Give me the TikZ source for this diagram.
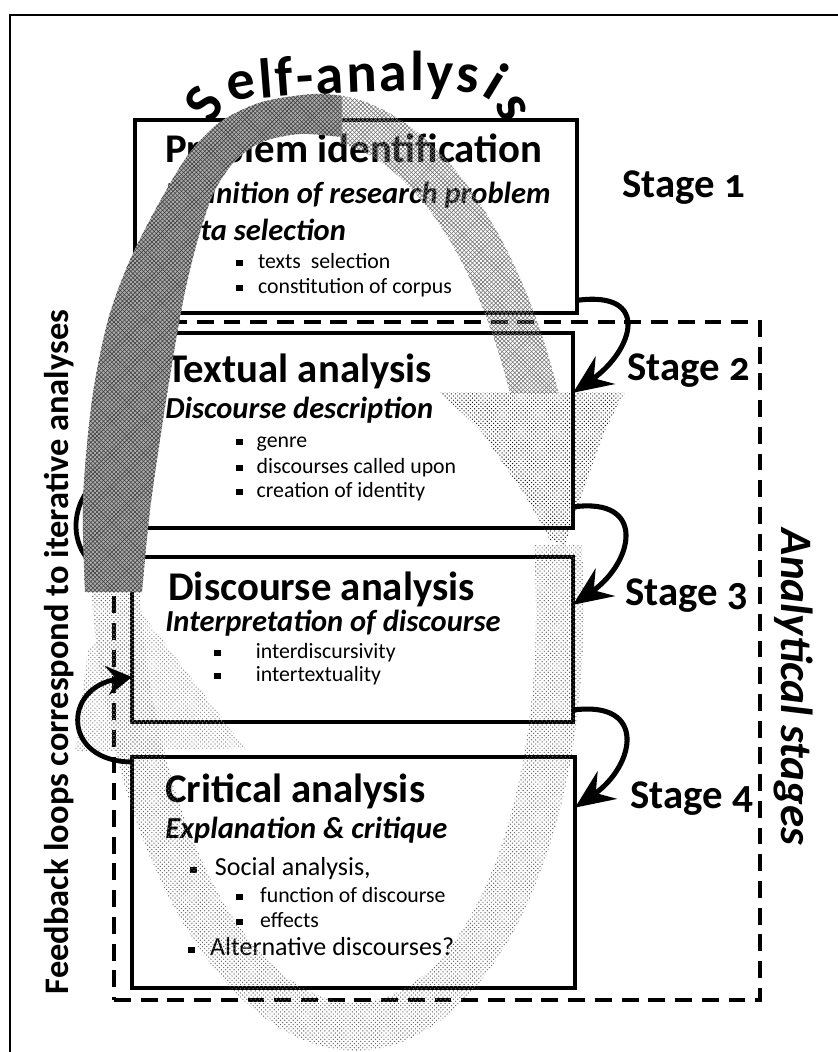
\documentclass[tikz,border=0pt]{standalone}
\usepackage{fontspec}
\setmainfont{Carlito}
\newfontfamily\stagefont[Numbers=OldStyle]{Carlito}
\usetikzlibrary{positioning,fit,arrows.meta,patterns,decorations.text}
\newcommand{\sq}{\rule[1.5pt]{4.5pt}{4.5pt}}

\begin{document}
\begin{tikzpicture}[x=0.025cm, y=-0.025cm,
		box/.style={draw, line width=2.8pt, fill=white, inner sep=0pt, outer sep=0pt},
		dashbox/.style={draw, line width=2.3pt, dash pattern=on 12pt off 7pt, inner sep=0pt},
		title/.style={anchor=base west, inner sep=0pt, font=\fontsize{29}{32}\selectfont\bfseries},
		sub/.style={anchor=base west, inner sep=0pt, font=\fontsize{21.7}{25}\selectfont\bfseries\itshape},
		item/.style={anchor=base west, inner sep=0pt, font=\fontsize{15.5}{18}\selectfont},
		bigitem/.style={anchor=base west, inner sep=0pt, font=\fontsize{18.5}{22}\selectfont},
		stage/.style={anchor=base west, inner sep=0pt, font=\fontsize{29}{32}\selectfont\stagefont\bfseries},
		stagearr/.style={line width=3.6pt, -{Stealth[length=28pt,width=24pt,inset=10pt]}},
		backarr/.style={line width=3.4pt, -{Stealth[length=18pt,width=21pt,inset=7pt]}},
		band/.style={even odd rule, shift={(337,572)}, rotate=3}]
	\useasboundingbox (0,0) rectangle (837,1052);
	% frame
	\draw[line width=2pt] (10,1070) -- (10,15) -- (850,15);
	\node[dashbox, fit={(114,322) (760,1000)}] (stages) {};
	% the four boxes
	\node[box, fit={(135,120) (577,313)}] (b1) {};
	\node[box, fit={(133,333) (573,528)}] (b2) {};
	\node[box, fit={(132,557) (573,722)}] (b3) {};
	\node[box, fit={(132,757) (575,988)}] (b4) {};
	\node[title] (t1) at (165,162) {Problem identification};
	\node[sub] (s1) at (165,203) {Definition of research problem};
	\node[sub] (d1) at (165,240) {Data selection};
	\node[item] (i11) at (236,268) {\sq\hspace{11pt}texts\ \ selection};
	\node[item] (i12) at (236,293) {\sq\hspace{11pt}constitution of corpus};
	\node[title] (t2) at (167,382) {Textual analysis};
	\node[sub] (s2) at (165,418) {Discourse description};
	\node[item] (i21) at (236,447) {\sq\hspace{10pt}genre};
	\node[item] (i22) at (236,473) {\sq\hspace{10pt}discourses called upon};
	\node[item] (i23) at (236,497) {\sq\hspace{10pt}creation of identity};
	\node[title] (t3) at (168,600) {Discourse analysis};
	\node[sub] (s3) at (165,631) {Interpretation of discourse};
	\node[item] (i31) at (214,658) {\sq\hspace{25pt}interdiscursivity};
	\node[item] (i32) at (214,681) {\sq\hspace{25pt}intertextuality};
	\node[title] (t4) at (165,802) {Critical analysis};
	\node[sub] (s4) at (165,838) {Explanation \& critique};
	\node[bigitem] (i41) at (190,875) {\sq\hspace{13pt}Social analysis,};
	\node[item] (i42) at (236,902) {\sq\hspace{12.5pt}function of discourse};
	\node[item] (i43) at (236,927) {\sq\hspace{12.5pt}effects};
	\node[bigitem] (i44) at (188,955) {\sq\hspace{11pt}Alternative discourses?};
	\draw[backarr] ([yshift=-14pt]b3.north west) .. controls +(-76,0) and +(-70,10) .. ([yshift=41pt]b2.south west);
	% self-analysis loop
	\fill[black!32] plot[smooth] coordinates {(85,592) (83,500) (92,400) (108,320) (130,260) (158,205) (188,155) (220,122) (262,102) (313,94) (342,96)}
		-- plot[smooth] coordinates {(342,137) (300,134) (262,142) (234,162) (214,192) (200,232) (187,282) (176,340) (163,420) (150,510) (142,592)} -- cycle;
	\path[pattern=crosshatch, pattern color=black!75] plot[smooth] coordinates {(85,592) (83,500) (92,400) (108,320) (130,260) (158,205) (188,155) (220,122) (262,102) (313,94) (342,96)}
		-- plot[smooth] coordinates {(342,137) (300,134) (262,142) (234,162) (214,192) (200,232) (187,282) (176,340) (163,420) (150,510) (142,592)} -- cycle;
	\begin{scope}
		\clip (340,0) rectangle (900,392);
		\path[band, pattern=crosshatch, pattern color=black!55] (0,0) ellipse [x radius=246, y radius=479] (0,0) ellipse [x radius=198, y radius=431];
	\end{scope}
	\begin{scope}
		\clip (340,545) rectangle (900,1100) (0,592) rectangle (340,1100);
		\path[band, pattern=crosshatch dots, pattern color=black!60] (0,0) ellipse [x radius=246, y radius=479] (0,0) ellipse [x radius=198, y radius=431];
	\end{scope}
	\path[pattern=crosshatch dots, pattern color=black!90] (440,392) -- (625,392) -- (605,430) -- (585,485) -- (565,545) -- (550,540) -- (525,495) -- (480,430) -- cycle;
	\path[pattern=crosshatch dots, pattern color=black!45] (132,600) -- (170,650) -- (245,748) -- (75,752) -- (88,650) -- cycle;
	\path[decorate, decoration={text along path, text align=fit to path,
		text={|\fontsize{40}{42}\selectfont\bfseries|Self-analysis}}]
		(212,126) .. controls (220,108) and (232,100) .. (250,99) .. controls (330,92) and (420,88) .. (472,93) .. controls (488,95) and (498,104) .. (503,124);
	% stage arrows
	\draw[stagearr] ([yshift=9pt]b1.south east) .. controls +(75,-10) and +(60,-42) .. ([yshift=-42.5pt]b2.north east);
	\draw[stagearr] ([yshift=15pt]b2.south east) .. controls +(75,-10) and +(60,-42) .. ([yshift=-34pt]b3.north east);
	\draw[stagearr] ([yshift=8.5pt]b3.south east) .. controls +(75,-10) and +(60,-42) .. ([yshift=-36pt]b4.north east);
	\draw[backarr] ([yshift=-3.5pt]b4.north west) .. controls +(-70,0) and +(-70,10) .. ([yshift=32pt]b3.south west);
	\node[stage] (st1) at (622,197) {Stage 1};
	\node[stage] (st2) at (627,380) {Stage 2};
	\node[stage] (st3) at (625,605) {Stage 3};
	\node[stage] (st4) at (630,808) {Stage 4};
	\node[rotate=-90, font=\fontsize{32}{34}\selectfont\bfseries\itshape] (an) at (793,687) {Analytical stages};
	\node[rotate=90, font=\fontsize{24.5}{26}\selectfont\bfseries] (fb) at (59,652) {Feedback loops correspond to iterative analyses};
\end{tikzpicture}
\end{document}
